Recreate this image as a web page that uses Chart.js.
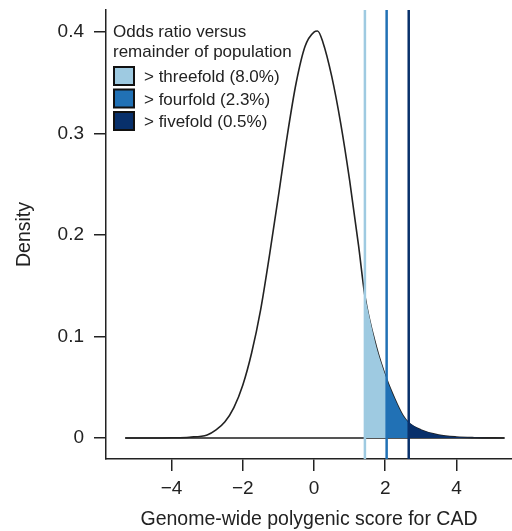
<!DOCTYPE html>
<html>
<head>
  <title>Genome-wide polygenic score for CAD</title>
  <style>
    body { margin: 0; background: #fff; }
    #wrap { width: 512px; height: 531px; }
  </style>
</head>
<body>
  <div id="wrap"><canvas id="densityChart"></canvas></div>

  <script src="https://cdn.jsdelivr.net/npm/chart.js"></script>
  <script>
    // values
    const scoreX = [-5.3, -4.5, -4, -3.5, -3, -2.75, -2.5, -2.25, -2, -1.75, -1.5, -1.25, -1, -0.75, -0.5, -0.25,
                    0, 0.1, 0.25, 0.5, 0.75, 1, 1.25, 1.43, 1.75, 2.04, 2.25, 2.5, 2.66, 3, 3.5, 4, 4.5, 5.35];
    const density = [0, 0, 0.0002, 0.0008, 0.003, 0.008, 0.016, 0.030, 0.052, 0.084, 0.126, 0.180, 0.238, 0.298, 0.350, 0.386,
                     0.400, 0.401, 0.390, 0.356, 0.310, 0.254, 0.190, 0.140, 0.090, 0.058, 0.040, 0.022, 0.015, 0.008, 0.003, 0.001, 0.0003, 0];
    const cutoffs = [1.43, 2.04, 2.66];
    const cutoffLabels = ['> threefold (8.0%)', '> fourfold (2.3%)', '> fivefold (0.5%)'];
    const cutoffColors = ['#9ecae1', '#2171b5', '#08306b'];
    const legendTitle = ['Odds ratio versus', 'remainder of population'];
    const xTicks = [-4, -2, 0, 2, 4];
    const yTicks = [0, 0.1, 0.2, 0.3, 0.4];
    const xMin = -5.84, xMax = 5.56;
    const yMin = -0.0207, yMax = 0.4217;

    const FONT = "'Liberation Sans', Arial, Helvetica, sans-serif";
    Chart.defaults.font.family = FONT;
    Chart.defaults.color = '#222';

    const curve = scoreX.map((x, i) => ({ x: x, y: density[i] }));

    const datasets = [];

    // vertical cutoff lines (top)
    cutoffs.forEach((c, i) => {
      datasets.push({
        data: [{ x: c, y: yMin }, { x: c, y: yMax }],
        borderColor: cutoffColors[i],
        borderWidth: 2.5,
        pointRadius: 0,
        order: 1
      });
    });

    // shaded tails
    cutoffs.forEach((c, i) => {
      const end = i < cutoffs.length - 1 ? cutoffs[i + 1] : scoreX[scoreX.length - 1];
      datasets.push({
        data: curve.filter(p => p.x >= c && p.x <= end),
        borderWidth: 0,
        backgroundColor: cutoffColors[i],
        fill: 'origin',
        pointRadius: 0,
        cubicInterpolationMode: 'monotone',
        order: 2
      });
    });

    // density curve
    datasets.push({
      data: curve,
      borderColor: '#222',
      borderWidth: 1.6,
      pointRadius: 0,
      cubicInterpolationMode: 'monotone',
      fill: false,
      order: 3
    });

    // zero baseline
    datasets.push({
      data: [{ x: scoreX[0], y: 0 }, { x: scoreX[scoreX.length - 1], y: 0 }],
      borderColor: '#555',
      borderWidth: 2,
      pointRadius: 0,
      order: 4
    });

    const boxLegend = {
      id: 'boxLegend',
      afterDraw(chart) {
        const ctx = chart.ctx;
        const x0 = 113;
        ctx.save();
        ctx.font = '17px ' + FONT;
        ctx.fillStyle = '#222';
        ctx.textBaseline = 'alphabetic';
        ctx.textAlign = 'left';
        legendTitle.forEach((t, i) => ctx.fillText(t, x0, 37 + i * 20));
        cutoffLabels.forEach((lab, i) => {
          const top = 67 + i * 22.5;
          ctx.fillStyle = cutoffColors[i];
          ctx.fillRect(x0 + 1, top, 20, 18);
          ctx.strokeStyle = '#111';
          ctx.lineWidth = 2;
          ctx.strokeRect(x0 + 1, top, 20, 18);
          ctx.fillStyle = '#222';
          ctx.fillText(lab, 144, top + 15);
        });
        ctx.restore();
      }
    };

    new Chart(document.getElementById('densityChart'), {
      type: 'line',
      data: { datasets: datasets },
      options: {
        responsive: true,
        maintainAspectRatio: false,
        animation: false,
        layout: { padding: { top: 10, right: 0, bottom: 0, left: 0 } },
        plugins: {
          legend: { display: false },
          tooltip: { enabled: false }
        },
        scales: {
          x: {
            type: 'linear',
            min: xMin,
            max: xMax,
            afterBuildTicks: s => { s.ticks = xTicks.map(v => ({ value: v })); },
            afterFit: s => { s.height = 72; s.paddingLeft = 0; s.paddingRight = 0; },
            grid: { drawOnChartArea: false, drawTicks: true, tickLength: 12, color: '#222', lineWidth: 1.5 },
            border: { display: true, color: '#222', width: 1.5 },
            ticks: {
              font: { size: 19 },
              padding: 6,
              maxRotation: 0,
              callback: v => String(v).replace('-', '\u2212')
            },
            title: {
              display: true,
              text: 'Genome-wide polygenic score for CAD',
              font: { size: 19.5 },
              color: '#222',
              padding: { top: 0, bottom: 0 }
            }
          },
          y: {
            min: yMin,
            max: yMax,
            afterBuildTicks: s => { s.ticks = yTicks.map(v => ({ value: v })); },
            afterFit: s => { s.width = 106; s.paddingTop = 0; s.paddingBottom = 0; },
            grid: { drawOnChartArea: false, drawTicks: true, tickLength: 12, color: '#222', lineWidth: 1.5 },
            border: { display: true, color: '#222', width: 1.5 },
            ticks: {
              font: { size: 19 },
              padding: 10,
              callback: v => String(v)
            },
            title: {
              display: true,
              text: 'Density',
              font: { size: 19.5 },
              color: '#222',
              padding: { top: 13, bottom: 0 }
            }
          }
        }
      },
      plugins: [boxLegend]
    });
  </script>
</body>
</html>
